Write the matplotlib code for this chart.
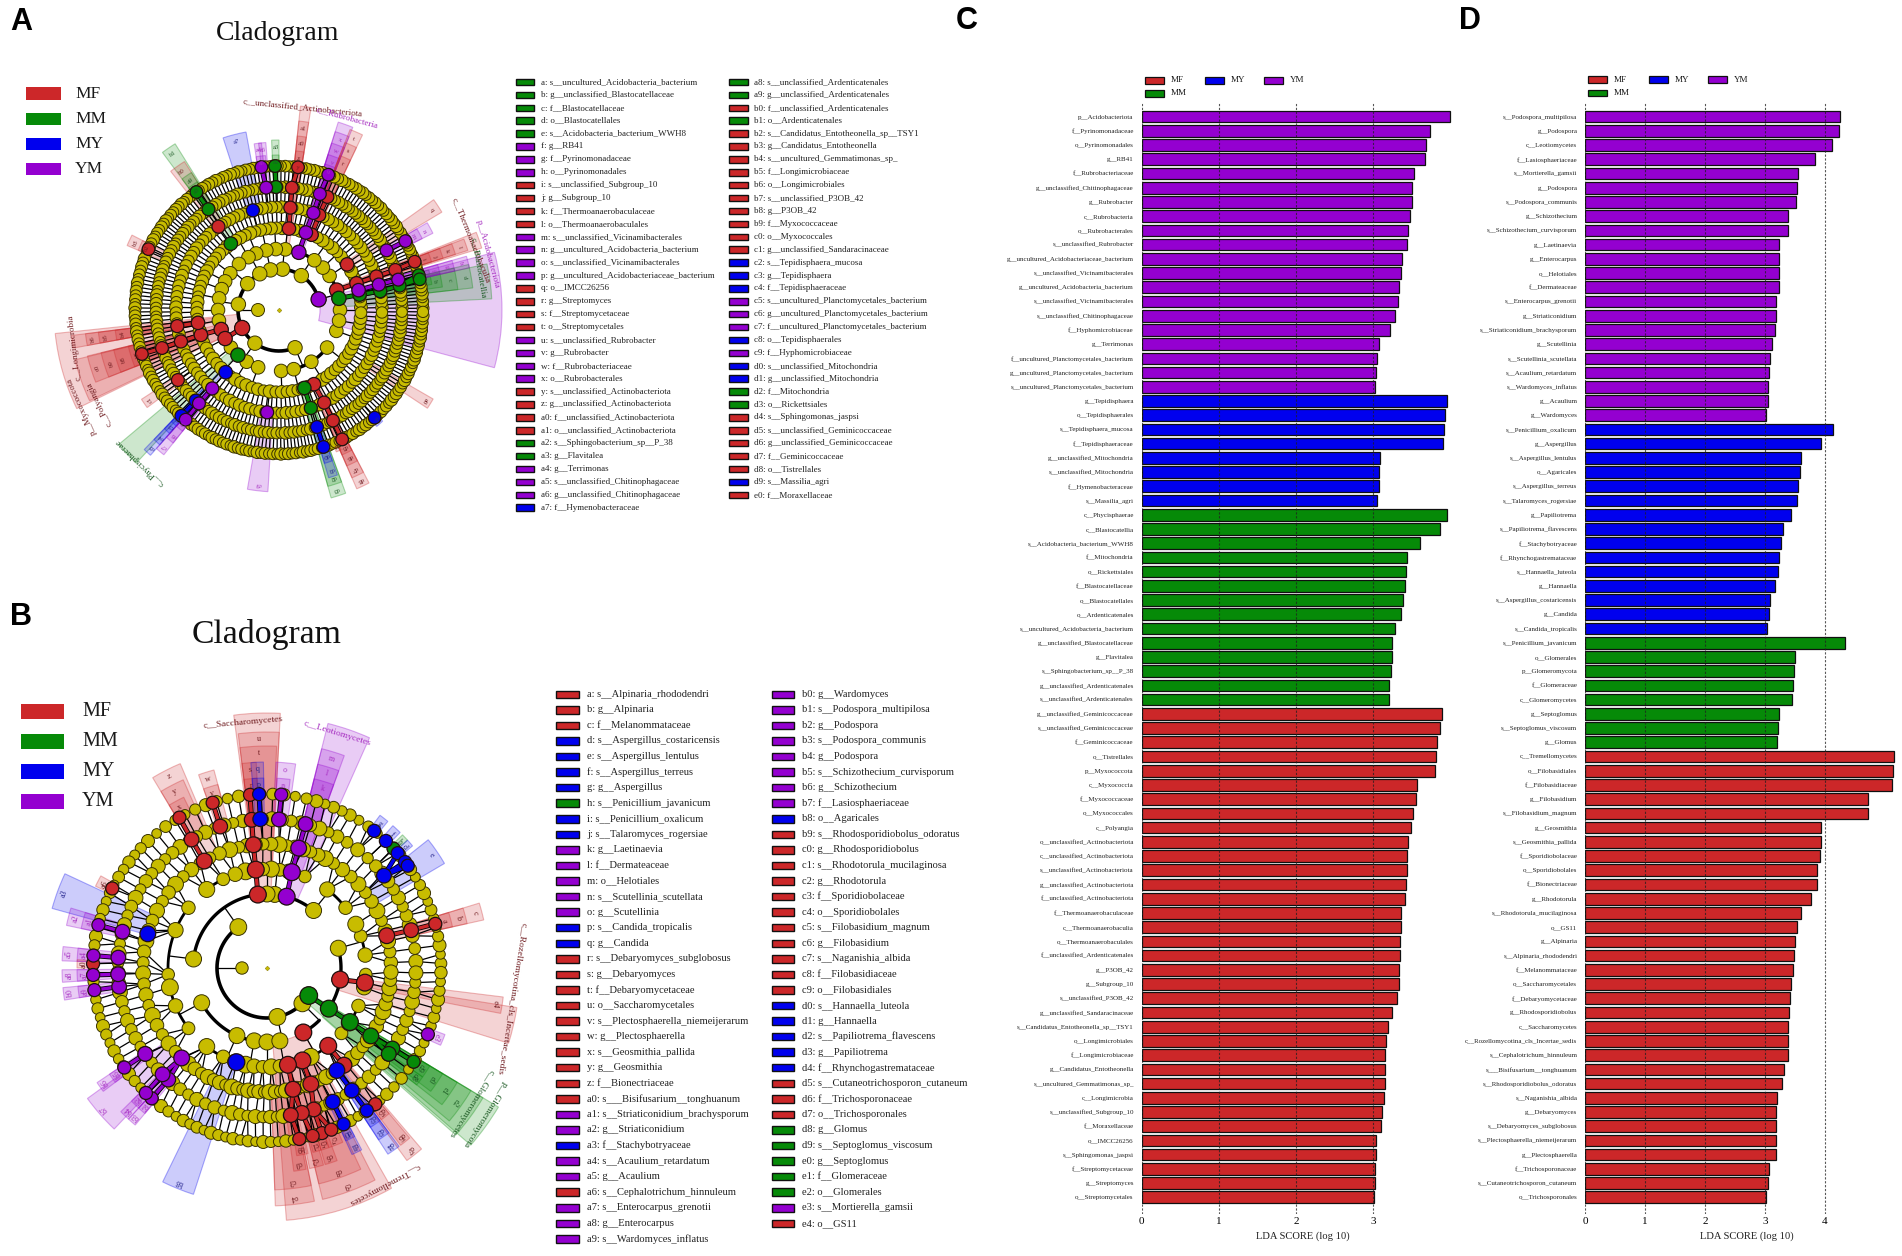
"""
LEfSe figure: two cladograms with their clade keys (A, B) and two LDA bar charts (C, D)
"""
import matplotlib
matplotlib.use('Agg')
import matplotlib.pyplot as plt
from matplotlib.patches import Circle, Wedge, Rectangle
from matplotlib.colors import to_rgba
import numpy as np

plt.rcParams['font.family'] = ['Liberation Serif', 'DejaVu Serif']

# ── colours ──────────────────────────────────────────────
COL = {'MF': '#CC2729', 'MM': '#068A08', 'MY': '#0000EE', 'YM': '#9400D0'}
TXT = {'MF': '#6E1A1E', 'MM': '#1C5A24', 'MY': '#22228C', 'YM': '#A52CC0'}
YELLOW = '#C8BC00'
GROUPS = ['MF', 'MM', 'MY', 'YM']
W, H = 1902, 1256

# ── panel C data ─────────────────────────────────────────
c_labels = [
    'p__Acidobacteriota', 'f__Pyrinomonadaceae', 'o__Pyrinomonadales', 'g__RB41', 'f__Rubrobacteriaceae',
    'g__unclassified_Chitinophagaceae', 'g__Rubrobacter', 'c__Rubrobacteria', 'o__Rubrobacterales',
    's__unclassified_Rubrobacter', 'g__uncultured_Acidobacteriaceae_bacterium',
    's__unclassified_Vicinamibacterales', 'g__uncultured_Acidobacteria_bacterium',
    's__unclassified_Vicinamibacterales', 's__unclassified_Chitinophagaceae', 'f__Hyphomicrobiaceae',
    'g__Terrimonas', 'f__uncultured_Planctomycetales_bacterium', 'g__uncultured_Planctomycetales_bacterium',
    's__uncultured_Planctomycetales_bacterium',
    'g__Tepidisphaera', 'o__Tepidisphaerales', 's__Tepidisphaera_mucosa', 'f__Tepidisphaeraceae',
    'g__unclassified_Mitochondria', 's__unclassified_Mitochondria', 'f__Hymenobacteraceae', 's__Massilia_agri',
    'c__Phycisphaerae', 'c__Blastocatellia', 's__Acidobacteria_bacterium_WWH8', 'f__Mitochondria',
    'o__Rickettsiales', 'f__Blastocatellaceae', 'o__Blastocatellales', 'o__Ardenticatenales',
    's__uncultured_Acidobacteria_bacterium', 'g__unclassified_Blastocatellaceae', 'g__Flavitalea',
    's__Sphingobacterium_sp__P_38', 'g__unclassified_Ardenticatenales', 's__unclassified_Ardenticatenales',
    'g__unclassified_Geminicoccaceae', 's__unclassified_Geminicoccaceae', 'f__Geminicoccaceae', 'o__Tistrellales',
    'p__Myxococcota', 'c__Myxococcia', 'f__Myxococcaceae', 'o__Myxococcales', 'c__Polyangia',
    'o__unclassified_Actinobacteriota', 'c__unclassified_Actinobacteriota', 's__unclassified_Actinobacteriota',
    'g__unclassified_Actinobacteriota', 'f__unclassified_Actinobacteriota', 'f__Thermoanaerobaculaceae',
    'c__Thermoanaerobaculia', 'o__Thermoanaerobaculales', 'f__unclassified_Ardenticatenales', 'g__P3OB_42',
    'g__Subgroup_10', 's__unclassified_P3OB_42', 'g__unclassified_Sandaracinaceae',
    's__Candidatus_Entotheonella_sp__TSY1', 'o__Longimicrobiales', 'f__Longimicrobiaceae',
    'g__Candidatus_Entotheonella', 's__uncultured_Gemmatimonas_sp_', 'c__Longimicrobia',
    's__unclassified_Subgroup_10', 'f__Moraxellaceae', 'o__IMCC26256', 's__Sphingomonas_jaspsi',
    'f__Streptomycetaceae', 'g__Streptomyces', 'o__Streptomycetales',
]
c_values = [
    4.00, 3.74, 3.68, 3.67, 3.53, 3.51, 3.50, 3.48, 3.45, 3.44, 3.37, 3.36, 3.34, 3.32, 3.28, 3.22, 3.07, 3.05, 3.04, 3.03,
    3.96, 3.93, 3.92, 3.90, 3.09, 3.08, 3.07, 3.05,
    3.96, 3.87, 3.61, 3.44, 3.42, 3.41, 3.39, 3.36, 3.28, 3.25, 3.25, 3.23, 3.21, 3.20,
    3.89, 3.87, 3.83, 3.82, 3.80, 3.57, 3.56, 3.52, 3.49, 3.45, 3.44, 3.44, 3.42, 3.41, 3.36, 3.36, 3.35, 3.35,
    3.34, 3.33, 3.31, 3.25, 3.19, 3.17, 3.15, 3.15, 3.15, 3.14, 3.11, 3.10, 3.04, 3.04, 3.03, 3.02, 3.01,
]
c_groups = ['YM'] * 20 + ['MY'] * 8 + ['MM'] * 14 + ['MF'] * 35

# ── panel D data ─────────────────────────────────────────
d_labels = [
    's__Podospora_multipilosa', 'g__Podospora', 'c__Leotiomycetes', 'f__Lasiosphaeriaceae', 's__Mortierella_gamsii',
    'g__Podospora', 's__Podospora_communis', 'g__Schizothecium', 's__Schizothecium_curvisporum', 'g__Laetinaevia',
    'g__Enterocarpus', 'o__Helotiales', 'f__Dermateaceae', 's__Enterocarpus_grenotii', 'g__Striaticonidium',
    's__Striaticonidium_brachysporum', 'g__Scutellinia', 's__Scutellinia_scutellata', 's__Acaulium_retardatum',
    's__Wardomyces_inflatus', 'g__Acaulium', 'g__Wardomyces',
    's__Penicillium_oxalicum', 'g__Aspergillus', 's__Aspergillus_lentulus', 'o__Agaricales', 's__Aspergillus_terreus',
    's__Talaromyces_rogersiae', 'g__Papiliotrema', 's__Papiliotrema_flavescens', 'f__Stachybotryaceae',
    'f__Rhynchogastremataceae', 's__Hannaella_luteola', 'g__Hannaella', 's__Aspergillus_costaricensis', 'g__Candida',
    's__Candida_tropicalis',
    's__Penicillium_javanicum', 'o__Glomerales', 'p__Glomeromycota', 'f__Glomeraceae', 'c__Glomeromycetes',
    'g__Septoglomus', 's__Septoglomus_viscosum', 'g__Glomus',
    'c__Tremellomycetes', 'o__Filobasidiales', 'f__Filobasidiaceae', 'g__Filobasidium', 's__Filobasidium_magnum',
    'g__Geosmithia', 's__Geosmithia_pallida', 'f__Sporidiobolaceae', 'o__Sporidiobolales', 'f__Bionectriaceae',
    'g__Rhodotorula', 's__Rhodotorula_mucilaginosa', 'o__GS11', 'g__Alpinaria', 's__Alpinaria_rhododendri',
    'f__Melanommataceae', 'o__Saccharomycetales', 'f__Debaryomycetaceae', 'g__Rhodosporidiobolus', 'c__Saccharomycetes',
    'c__Rozellomycotina_cls_Incertae_sedis', 's__Cephalotrichum_hinnuleum', 's___Bisifusarium__tonghuanum',
    's__Rhodosporidiobolus_odoratus', 's__Naganishia_albida', 'g__Debaryomyces', 's__Debaryomyces_subglobosus',
    's__Plectosphaerella_niemeijerarum', 'g__Plectosphaerella', 'f__Trichosporonaceae',
    's__Cutaneotrichosporon_cutaneum', 'o__Trichosporonales',
]
d_values = [
    4.25, 4.23, 4.11, 3.84, 3.55, 3.54, 3.51, 3.39, 3.39, 3.24, 3.24, 3.24, 3.24, 3.19, 3.19, 3.17, 3.11, 3.08, 3.06, 3.05, 3.05, 3.02,
    4.14, 3.93, 3.60, 3.58, 3.55, 3.53, 3.43, 3.30, 3.27, 3.23, 3.21, 3.16, 3.08, 3.07, 3.04,
    4.34, 3.50, 3.49, 3.46, 3.45, 3.23, 3.22, 3.20,
    5.15, 5.13, 5.12, 4.72, 4.71, 3.93, 3.93, 3.91, 3.87, 3.87, 3.77, 3.60, 3.54, 3.50, 3.48, 3.46, 3.44, 3.42, 3.40,
    3.39, 3.39, 3.38, 3.31, 3.29, 3.20, 3.19, 3.18, 3.18, 3.18, 3.06, 3.05, 3.02,
]
d_groups = ['YM'] * 22 + ['MY'] * 15 + ['MM'] * 8 + ['MF'] * 32

# ── clade key A ──────────────────────────────────────────
a_key_1 = [
    'a: s__uncultured_Acidobacteria_bacterium', 'b: g__unclassified_Blastocatellaceae', 'c: f__Blastocatellaceae',
    'd: o__Blastocatellales', 'e: s__Acidobacteria_bacterium_WWH8', 'f: g__RB41', 'g: f__Pyrinomonadaceae',
    'h: o__Pyrinomonadales', 'i: s__unclassified_Subgroup_10', 'j: g__Subgroup_10', 'k: f__Thermoanaerobaculaceae',
    'l: o__Thermoanaerobaculales', 'm: s__unclassified_Vicinamibacterales', 'n: g__uncultured_Acidobacteria_bacterium',
    'o: s__unclassified_Vicinamibacterales', 'p: g__uncultured_Acidobacteriaceae_bacterium', 'q: o__IMCC26256',
    'r: g__Streptomyces', 's: f__Streptomycetaceae', 't: o__Streptomycetales', 'u: s__unclassified_Rubrobacter',
    'v: g__Rubrobacter', 'w: f__Rubrobacteriaceae', 'x: o__Rubrobacterales', 'y: s__unclassified_Actinobacteriota',
    'z: g__unclassified_Actinobacteriota', 'a0: f__unclassified_Actinobacteriota', 'a1: o__unclassified_Actinobacteriota',
    'a2: s__Sphingobacterium_sp__P_38', 'a3: g__Flavitalea', 'a4: g__Terrimonas', 'a5: s__unclassified_Chitinophagaceae',
    'a6: g__unclassified_Chitinophagaceae', 'a7: f__Hymenobacteraceae',
]
a_key_1_groups = ['MM'] * 5 + ['YM'] * 3 + ['MF'] * 4 + ['YM'] * 4 + ['MF'] * 4 + ['YM'] * 4 + ['MF'] * 4 + ['MM'] * 2 + ['YM'] * 3 + ['MY']
a_key_2 = [
    'a8: s__unclassified_Ardenticatenales', 'a9: g__unclassified_Ardenticatenales', 'b0: f__unclassified_Ardenticatenales',
    'b1: o__Ardenticatenales', 'b2: s__Candidatus_Entotheonella_sp__TSY1', 'b3: g__Candidatus_Entotheonella',
    'b4: s__uncultured_Gemmatimonas_sp_', 'b5: f__Longimicrobiaceae', 'b6: o__Longimicrobiales',
    'b7: s__unclassified_P3OB_42', 'b8: g__P3OB_42', 'b9: f__Myxococcaceae', 'c0: o__Myxococcales',
    'c1: g__unclassified_Sandaracinaceae', 'c2: s__Tepidisphaera_mucosa', 'c3: g__Tepidisphaera', 'c4: f__Tepidisphaeraceae',
    'c5: s__uncultured_Planctomycetales_bacterium', 'c6: g__uncultured_Planctomycetales_bacterium',
    'c7: f__uncultured_Planctomycetales_bacterium', 'c8: o__Tepidisphaerales', 'c9: f__Hyphomicrobiaceae',
    'd0: s__unclassified_Mitochondria', 'd1: g__unclassified_Mitochondria', 'd2: f__Mitochondria', 'd3: o__Rickettsiales',
    'd4: s__Sphingomonas_jaspsi', 'd5: s__unclassified_Geminicoccaceae', 'd6: g__unclassified_Geminicoccaceae',
    'd7: f__Geminicoccaceae', 'd8: o__Tistrellales', 'd9: s__Massilia_agri', 'e0: f__Moraxellaceae',
]
a_key_2_groups = ['MM'] * 2 + ['MF', 'MM'] + ['MF'] * 10 + ['MY'] * 3 + ['YM'] * 3 + ['MY', 'YM'] + ['MY'] * 2 + ['MM'] * 2 + ['MF'] * 5 + ['MY', 'MF']

# ── clade key B ──────────────────────────────────────────
b_key_1 = [
    'a: s__Alpinaria_rhododendri', 'b: g__Alpinaria', 'c: f__Melanommataceae', 'd: s__Aspergillus_costaricensis',
    'e: s__Aspergillus_lentulus', 'f: s__Aspergillus_terreus', 'g: g__Aspergillus', 'h: s__Penicillium_javanicum',
    'i: s__Penicillium_oxalicum', 'j: s__Talaromyces_rogersiae', 'k: g__Laetinaevia', 'l: f__Dermateaceae',
    'm: o__Helotiales', 'n: s__Scutellinia_scutellata', 'o: g__Scutellinia', 'p: s__Candida_tropicalis', 'q: g__Candida',
    'r: s__Debaryomyces_subglobosus', 's: g__Debaryomyces', 't: f__Debaryomycetaceae', 'u: o__Saccharomycetales',
    'v: s__Plectosphaerella_niemeijerarum', 'w: g__Plectosphaerella', 'x: s__Geosmithia_pallida', 'y: g__Geosmithia',
    'z: f__Bionectriaceae', 'a0: s___Bisifusarium__tonghuanum', 'a1: s__Striaticonidium_brachysporum',
    'a2: g__Striaticonidium', 'a3: f__Stachybotryaceae', 'a4: s__Acaulium_retardatum', 'a5: g__Acaulium',
    'a6: s__Cephalotrichum_hinnuleum', 'a7: s__Enterocarpus_grenotii', 'a8: g__Enterocarpus', 'a9: s__Wardomyces_inflatus',
]
b_key_1_groups = ['MF'] * 3 + ['MY'] * 4 + ['MM'] + ['MY'] * 2 + ['YM'] * 5 + ['MY'] * 2 + ['MF'] * 10 + ['YM'] * 2 + ['MY'] + ['YM'] * 2 + ['MF'] + ['YM'] * 3
b_key_2 = [
    'b0: g__Wardomyces', 'b1: s__Podospora_multipilosa', 'b2: g__Podospora', 'b3: s__Podospora_communis', 'b4: g__Podospora',
    'b5: s__Schizothecium_curvisporum', 'b6: g__Schizothecium', 'b7: f__Lasiosphaeriaceae', 'b8: o__Agaricales',
    'b9: s__Rhodosporidiobolus_odoratus', 'c0: g__Rhodosporidiobolus', 'c1: s__Rhodotorula_mucilaginosa', 'c2: g__Rhodotorula',
    'c3: f__Sporidiobolaceae', 'c4: o__Sporidiobolales', 'c5: s__Filobasidium_magnum', 'c6: g__Filobasidium',
    'c7: s__Naganishia_albida', 'c8: f__Filobasidiaceae', 'c9: o__Filobasidiales', 'd0: s__Hannaella_luteola',
    'd1: g__Hannaella', 'd2: s__Papiliotrema_flavescens', 'd3: g__Papiliotrema', 'd4: f__Rhynchogastremataceae',
    'd5: s__Cutaneotrichosporon_cutaneum', 'd6: f__Trichosporonaceae', 'd7: o__Trichosporonales', 'd8: g__Glomus',
    'd9: s__Septoglomus_viscosum', 'e0: g__Septoglomus', 'e1: f__Glomeraceae', 'e2: o__Glomerales', 'e3: s__Mortierella_gamsii',
    'e4: o__GS11',
]
b_key_2_groups = ['YM'] * 8 + ['MY'] + ['MF'] * 11 + ['MY'] * 5 + ['MF'] * 3 + ['MM'] * 5 + ['YM', 'MF']

# ── cladogram A: ring radii, inner nodes, node counts per 30 degree bin, marked clades ──
a_rings = [0, 21, 41, 61, 82, 103, 123, 144]
a_node_r = [0, 6.5, 7.2, 6.8, 6.4, 6.2, 6.1, 6.0]
a_inner = {1: [180], 2: [15, 57, 85, 102, 118, 140, 172, 206, 234, 293],
           3: [0, 34, 44, 54.6, 84, 93, 102, 112, 120, 131, 143, 152, 160, 169, 180, 190, 218, 238, 250, 272, 284, 302, 322, 340, 350]}
a_bins = {4: [8, 7, 7, 8, 8, 8, 7, 7, 7, 8, 8, 8],
          5: [11, 10, 10, 11, 11, 10, 10, 10, 10, 11, 11, 11],
          6: [16, 16, 15, 16, 16, 15, 15, 15, 15, 15, 16, 16],
          7: [21, 19, 18, 19, 20, 18, 19, 18, 19, 20, 19, 20]}
a_marked = {
    'MF': [(3, 19), (4, 19), (5, 19), (6, 19), (7, 19.6), (4, 33.8), (4, 66.6), (5, 67), (6, 66.8), (4, 83), (5, 83.7), (6, 84),
           (7, 82.4), (5, 126), (7, 155), (2, 206), (3, 198.6), (3, 207.9), (4, 197.7), (4, 189), (5, 189), (5, 197.8), (6, 198),
           (7, 197.8), (6, 214.7), (4, 295.2), (5, 296), (6, 296), (7, 296)],
    'MM': [(3, 11), (4, 10.8), (5, 10.5), (6, 11.4), (7, 14), (7, 12.3), (6, 91.4), (7, 91.6), (4, 126), (6, 125), (7, 125),
           (3, 227.7), (4, 288), (5, 288)],
    'MY': [(5, 104.7), (4, 229.4), (6, 227.4), (7, 227.3), (6, 288), (7, 288), (7, 311.6)],
    'YM': [(2, 15), (4, 14), (5, 14.3), (6, 14.3), (6, 29), (7, 28.6), (3, 71), (4, 70.9), (5, 70.5), (6, 70.6), (7, 70), (6, 96),
           (7, 97), (5, 229.6), (6, 229.4), (7, 229.6), (5, 263.4)],
}
# start angle, end angle, inner radius, outer radius, group, letter
a_sectors = [
    (-15, 15, 41, 223, 'YM', ''), (3, 12.5, 61, 213, 'MM', ''), (6.5, 13.5, 82, 195, 'MM', 'd'), (6.5, 13.5, 103, 180, 'MM', 'c'),
    (8, 13, 123, 165, 'MM', 'b'), (9.5, 12.5, 144, 155, 'MM', 'a'), (13.5, 15, 144, 155, 'MM', 'e'),
    (12.5, 16, 82, 195, 'YM', 'h'), (12.5, 16, 103, 180, 'YM', 'g'), (12.5, 16, 123, 165, 'YM', 'f'),
    (17, 21.5, 61, 212, 'MF', ''), (17.5, 21, 82, 198, 'MF', 'l'), (17.5, 21, 103, 185, 'MF', 'k'), (17.5, 21, 123, 172, 'MF', 'j'),
    (17.5, 21, 144, 160, 'MF', 'i'), (26.5, 30.5, 123, 172, 'YM', 'n'), (26.5, 30.5, 144, 160, 'YM', 'm'), (31, 35.5, 82, 190, 'MF', 'q'),
    (68, 72.5, 61, 197, 'YM', ''), (68, 72.5, 82, 187, 'YM', 'x'), (68, 72.5, 103, 175, 'YM', 'w'), (68, 72.5, 123, 163, 'YM', 'v'),
    (68, 72.5, 144, 153, 'YM', 'u'), (64.5, 68.5, 82, 194, 'MF', 't'), (64.5, 68.5, 103, 180, 'MF', 's'), (64.5, 68.5, 123, 166, 'MF', 'r'),
    (81, 84, 61, 205, 'MF', ''), (81, 84, 82, 190, 'MF', 'a1'), (81, 84, 103, 175, 'MF', 'a0'), (81, 84, 123, 160, 'MF', 'z'),
    (81, 84, 144, 150, 'MF', 'y'), (90, 92.5, 123, 170, 'MM', 'a3'), (90, 92.5, 144, 155, 'MM', 'a2'), (94.5, 97, 123, 168, 'YM', 'a6'),
    (96, 98.5, 123, 168, 'YM', 'a4'), (95, 98.5, 144, 155, 'YM', 'a5'), (100.5, 108, 103, 181, 'MY', 'a7'),
    (122, 126.5, 82, 196, 'MM', 'b1'), (122.5, 128, 103, 176, 'MF', 'b0'), (122.5, 126.5, 123, 163, 'MM', 'a9'), (122.5, 126.5, 144, 152, 'MM', 'a8'),
    (153, 157, 123, 165, 'MF', 'b3'), (153, 157, 144, 153, 'MF', 'b2'),
    (186, 206, 41, 225, 'MF', ''), (193.7, 205.6, 61, 210, 'MF', ''), (193.5, 201.5, 82, 197, 'MF', 'c0'), (193.5, 201.5, 103, 183, 'MF', 'b9'),
    (193.5, 201.5, 123, 170, 'MF', 'b8'), (193.5, 201.5, 144, 155, 'MF', 'b7'), (187, 190.5, 61, 209, 'MF', ''), (187, 190.5, 82, 195, 'MF', 'b6'),
    (187, 190.5, 103, 182, 'MF', 'b5'), (187, 190.5, 123, 165, 'MF', 'b4'), (213, 216.5, 123, 164, 'MF', 'c1'),
    (220, 227, 61, 209, 'MM', ''), (226, 228.5, 82, 194, 'MY', 'c8'), (226, 228.5, 103, 180, 'MY', 'c4'), (226, 228.5, 123, 165, 'MY', 'c3'),
    (226, 228.5, 144, 155, 'MY', 'c2'), (228.5, 231.5, 103, 185, 'YM', 'c7'), (228.5, 231.5, 123, 170, 'YM', 'c6'), (228.5, 231.5, 144, 155, 'YM', 'c5'),
    (260, 266.5, 103, 182, 'YM', 'c9'), (285.5, 290, 82, 195, 'MM', 'd3'), (285.5, 290, 103, 183, 'MM', 'd2'), (286.5, 289.5, 123, 175, 'MY', 'd1'),
    (286.5, 289.5, 144, 160, 'MY', 'd0'), (293.5, 297.5, 82, 195, 'MF', 'd8'), (293.5, 297.5, 103, 183, 'MF', 'd7'), (293.5, 297.5, 123, 170, 'MF', 'd6'),
    (293.5, 297.5, 144, 158, 'MF', 'd5'), (292, 294, 144, 153, 'MF', 'd4'), (-33.5, -30, 103, 178, 'MF', 'e0'), (-50, -47, 144, 152, 'MY', 'd9'),
]
# name, x, y, rotation, group
a_names = [
    ('c__unclassified_Actinobacteriota', 24, 202, -6, 'MF'), ('c__Rubrobacteria', 68, 192, -15, 'YM'),
    ('c__Thermoanaerobaculia', 192, 70, -68, 'MF'), ('p__Acidobacteriota', 209, 56, -75, 'YM'),
    ('c__Blastocatellia', 200, 42, -80, 'MM'), ('p__Myxococcota', -197, -96, 114, 'MF'),
    ('c__Polyangia', -180, -94, 116, 'MF'), ('c__Longimicrobia', -204, -38, 97, 'MF'),
    ('c__Phycisphaerae', -139, -152, 136, 'MM'),
]
a_sizes = [1.0, 0.92, 0.97, 0.88, 1.03, 0.94]

# ── cladogram B: same arrangement, node counts per 15 degree bin ──
b_rings = [0, 25, 50, 74, 99, 124, 149, 174]
b_node_r = [0, 6.2, 8.4, 8.0, 8.0, 7.5, 7.0, 6.2]
b_inner = {1: [180], 2: [125, 282, 315], 3: [90, 84, 51, 15.5, 280, 270, 260, 246, 173, 208]}
b_bins = {4: [1, 2, 1, 1, 1, 3, 3, 2, 1, 1, 1, 0, 2, 1, 1, 1, 2, 3, 3, 2, 1, 2, 1, 2],
          5: [3, 3, 3, 3, 4, 4, 4, 3, 3, 3, 3, 3, 3, 3, 3, 4, 5, 6, 6, 5, 4, 4, 4, 4],
          6: [3, 4, 4, 3, 4, 4, 4, 4, 4, 4, 4, 4, 4, 4, 4, 4, 4, 5, 6, 5, 4, 4, 4, 4],
          7: [5, 5, 5, 4, 5, 4, 4, 4, 4, 5, 5, 5, 5, 5, 5, 5, 6, 6, 6, 6, 5, 4, 5, 5]}
b_marked = {
    'MF': [(3, 97.1), (4, 96.5), (5, 96.3), (6, 95.9), (7, 95.6), (5, 120.4), (6, 120.4), (7, 120.2), (6, 108.3), (7, 108.2),
           (5, 15.1), (6, 14.7), (7, 14.7), (3, -9), (4, -8.5), (4, -51.8), (5, -51.6), (7, -51.5), (3, -60.6), (4, -69), (4, -77.8),
           (5, -69.3), (5, -77.9), (6, -71.7), (6, -76.5), (6, -80.8), (7, -71.6), (7, -74.8), (7, -79.3), (7, -68.3), (7, 178.6), (7, 152.8)],
    'MM': [(2, -33.4), (3, -33.3), (4, -33.1), (5, -33.2), (6, -32.7), (6, -35.2), (7, -32.6), (7, 43.3)],
    'MY': [(6, 92.6), (7, 92.6), (7, 52), (7, 46.9), (7, 41.3), (7, 37.5), (7, 36), (6, 38.3), (5, -55.7), (6, -55.3), (7, -55),
           (6, -63.8), (7, -63.9), (4, 252), (5, 164)],
    'YM': [(3, 74.6), (4, 75.5), (5, 75.2), (6, 75), (6, 85.4), (7, 85.3), (7, -22.4), (5, 226.5), (6, 215.2), (7, 214.9), (6, 228.5),
           (6, 225.5), (7, 228.5), (7, 225.9), (7, 187.3), (6, 187.2), (7, 182.3), (6, 182.4), (6, 176), (7, 175.9), (6, 165.9), (7, 165.7)],
}
b_sectors = [
    (87, 97.5, 74, 255, 'MF', ''), (87, 97, 99, 236, 'MF', 'u'), (87.5, 97, 124, 222, 'MF', 't'), (93, 97, 149, 206, 'MF', 's'),
    (93, 97, 174, 190, 'MF', 'r'), (91, 94.5, 149, 206, 'MY', 'q'), (91, 94.5, 174, 190, 'MY', 'p'), (82, 87.5, 149, 206, 'YM', 'o'),
    (83, 87, 174, 190, 'YM', 'n'), (66, 76, 74, 252, 'YM', ''), (70, 76, 99, 226, 'YM', 'm'), (70, 76, 124, 210, 'YM', 'l'), (70, 76, 149, 195, 'YM', 'k'),
    (113, 121, 124, 222, 'MF', 'z'), (114, 121, 149, 206, 'MF', 'y'), (116, 121, 174, 190, 'MF', 'x'), (105, 109.5, 149, 205, 'MF', 'w'), (105, 109.5, 174, 190, 'MF', 'v'),
    (155, 164.5, 124, 223, 'MY', 'a3'), (163, 168, 149, 205, 'YM', 'a2'), (163, 168, 174, 190, 'YM', 'a1'), (151, 154.5, 174, 190, 'MF', 'a6'),
    (174, 178, 149, 205, 'YM', 'a5'), (174, 178, 174, 190, 'YM', 'a4'), (177.5, 180, 174, 190, 'MF', 'a0'), (180.5, 184, 149, 205, 'YM', 'a8'),
    (180.5, 184, 174, 190, 'YM', 'a7'), (185.5, 189, 149, 205, 'YM', 'b0'), (185.5, 189, 174, 190, 'YM', 'a9'),
    (216, 226.5, 124, 222, 'YM', 'b7'), (214, 217, 149, 205, 'YM', 'b6'), (214, 217, 174, 190, 'YM', 'b5'), (224.5, 227.5, 149, 205, 'YM', 'b4'),
    (227.5, 230, 149, 205, 'YM', 'b3'), (224.5, 227.5, 174, 190, 'YM', 'b2'), (227.5, 230, 174, 190, 'YM', 'b1'), (244, 252, 99, 238, 'MY', 'b8'),
    (-85.6, -60.5, 74, 253, 'MF', ''), (-76.5, -63, 99, 238, 'MF', 'c9'), (-88, -78.5, 99, 238, 'MF', 'c4'), (-76.5, -65, 124, 222, 'MF', 'c8'),
    (-88, -78.5, 124, 222, 'MF', 'c3'), (-73.5, -70, 149, 205, 'MF', 'c6'), (-78, -74, 149, 205, 'MF', 'c2'), (-82.5, -79, 149, 205, 'MF', 'c0'),
    (-71, -66.5, 174, 190, 'MF', 'c7'), (-73.5, -71, 174, 190, 'MF', 'c5'), (-76, -73.5, 174, 190, 'MF', 'c1'), (-81, -77.5, 174, 190, 'MF', 'b9'),
    (-54, -49.5, 99, 238, 'MF', 'd7'), (-53, -50, 124, 222, 'MF', 'd6'), (-53, -50, 174, 190, 'MF', 'd5'), (-57, -53.5, 124, 222, 'MY', 'd4'),
    (-57, -53.5, 149, 205, 'MY', 'd3'), (-57, -53.5, 174, 190, 'MY', 'd2'), (-65.5, -62.5, 149, 205, 'MY', 'd1'), (-65.5, -62.5, 174, 190, 'MY', 'd0'),
    (-41, -31, 50, 270, 'MM', ''), (-41.5, -31, 74, 252, 'MM', ''), (-40, -31, 99, 238, 'MM', 'e2'), (-38, -31, 124, 222, 'MM', 'e1'),
    (-37, -31, 149, 205, 'MM', 'e0'), (-35, -31, 174, 190, 'MM', 'd9'), (-38, -35, 149, 190, 'MM', 'd8'),
    (-17.3, -9, 74, 253, 'MF', ''), (-11, -7, 99, 238, 'MF', 'e4'), (12.5, 17, 124, 222, 'MF', 'c'), (12.5, 17, 149, 205, 'MF', 'b'), (12.5, 17, 174, 190, 'MF', 'a'),
    (-24, -20.5, 174, 190, 'YM', 'e3'), (30.5, 38.5, 124, 206, 'MY', 'e'), (50.5, 53.5, 174, 190, 'MY', 'g'), (45.5, 48.5, 174, 190, 'MY', 'f'),
    (42.3, 44.5, 174, 190, 'MM', 'h'), (40, 42.3, 174, 190, 'MY', 'd'),
]
b_names = [
    ('c__Saccharomycetes', -24, 245, 5, 'MF'), ('c__Leotiomycetes', 70, 235, -17, 'YM'),
    ('c__Rozellomycotina_cls_Incertae_sedis', 245, -31, -99, 'MF'), ('p__Glomeromycota', 218, -146, -122, 'MM'),
    ('c__Glomeromycetes', 204, -136, -122, 'MM'), ('c__Tremellomycetes', 117, -216, -152, 'MF'),
]
b_sizes = [1.0, 0.84, 0.95, 0.78, 1.05, 0.9, 0.8]


def pixel_axes(x0, y0, x1, y1):
    return fig.add_axes([x0 / W, 1 - y1 / H, (x1 - x0) / W, (y1 - y0) / H])


def bin_angles(counts):
    width = 360 / len(counts)
    out = []
    for i, n in enumerate(counts):
        out += [i * width + (j + 0.5) * width / n for j in range(n)]
    return out


def delta(a, b):
    return (a - b + 180) % 360 - 180


def cladogram(ax, rings, node_r, inner, bins, marked, sectors, names, sizes, radial, label_size, name_size):
    for th1, th2, r0, r1, grp, letter in sectors:
        ax.add_patch(Wedge((0, 0), r1, th1, th2, width=r1 - r0, facecolor=to_rgba(COL[grp], 0.2),
                           edgecolor=to_rgba(COL[grp], 0.32), lw=0.8, zorder=1))
        if letter:
            mid = np.radians((th1 + th2) / 2)
            ax.text((r1 - 7) * np.cos(mid), (r1 - 7) * np.sin(mid), letter, color=TXT[grp], fontsize=label_size,
                    rotation=(th1 + th2) / 2 - 90, ha='center', va='center', rotation_mode='anchor', zorder=6)
    for name, x, y, rot, grp in names:
        ax.text(x, y, name, color=TXT[grp], fontsize=name_size, rotation=rot, ha='center', va='center',
                rotation_mode='anchor', zorder=6)

    # nodes per ring, plain ones first
    levels = {k: list(v) for k, v in inner.items()}
    for k, counts in bins.items():
        levels[k] = bin_angles(counts)
    for grp, pts in marked.items():
        for k, th in pts:
            levels[k].append(th)

    # branches
    for k in range(2, 8):
        kids = {}
        for th in levels[k]:
            parent = min(levels[k - 1], key=lambda p: abs(delta(th, p)))
            kids.setdefault(parent, []).append(th)
        lw = {2: 2.6, 3: 2.4, 4: 2.0}.get(k, 0.9)
        for parent, ths in kids.items():
            pr = np.radians(parent)
            if k <= 4:
                offs = [delta(t, parent) for t in ths] + [0]
                arc = np.radians(np.linspace(parent + min(offs), parent + max(offs), 60))
                ax.plot(rings[k] * np.cos(arc), rings[k] * np.sin(arc), color='black', lw=lw, zorder=2,
                        solid_capstyle='round')
                ax.plot([rings[k - 1] * np.cos(pr), rings[k] * np.cos(pr)],
                        [rings[k - 1] * np.sin(pr), rings[k] * np.sin(pr)], color='black', lw=0.9, zorder=2)
            else:
                for t in ths:
                    tr = np.radians(t)
                    start = tr if radial else pr
                    ax.plot([rings[k - 1] * np.cos(start), rings[k] * np.cos(tr)],
                            [rings[k - 1] * np.sin(start), rings[k] * np.sin(tr)], color='black', lw=lw, zorder=2)

    # plain nodes
    for k, ths in levels.items():
        for j, th in enumerate(sorted(ths)):
            t = np.radians(th)
            rad = node_r[k] * (sizes[j % len(sizes)] if k >= 4 else 1.0)
            ax.add_patch(Circle((rings[k] * np.cos(t), rings[k] * np.sin(t)), rad, facecolor=YELLOW,
                                edgecolor='#3A3300', lw=0.7, zorder=3))

    # marked clades, with thick links between neighbouring levels
    for grp, pts in marked.items():
        for k, th in pts:
            t = np.radians(th)
            x, y = rings[k] * np.cos(t), rings[k] * np.sin(t)
            before = [p for kk, p in pts if kk == k - 1 and abs(delta(p, th)) < 6]
            if before:
                p = np.radians(min(before, key=lambda q: abs(delta(q, th))))
                xy = ([rings[k - 1] * np.cos(p), x], [rings[k - 1] * np.sin(p), y])
                ax.plot(*xy, color='black', lw=3.6, zorder=4, solid_capstyle='butt')
                ax.plot(*xy, color=COL[grp], lw=2.4, zorder=4.1, solid_capstyle='butt')
            ax.add_patch(Circle((x, y), node_r[k] * 1.05, facecolor=COL[grp], edgecolor='#201010', lw=0.9, zorder=5))

    ax.plot(0, 0, marker='D', ms=2.4, color=YELLOW, mec='#807000', mew=0.3, zorder=3)
    ax.set_axis_off()


def bar_panel(x0, x1, unit, labels, values, groups, xticks, xlabel_x, label_size):
    ax = pixel_axes(x0, 103, x1, 1214)
    n_y = np.arange(len(values))
    ax.barh(n_y, values, height=0.82, color=[COL[g] for g in groups], edgecolor='#101010', lw=0.9, zorder=2)
    ax.set_xlim(0, (x1 - x0) / unit)
    ax.set_ylim((1214 - 116.6) / 14.22, (103 - 116.6) / 14.22)
    for t in xticks:
        ax.axvline(t, color='#202020', lw=0.8, ls=(0, (2, 1.5)), alpha=0.75, zorder=3)
    for sp in ax.spines.values():
        sp.set_visible(False)
    ax.set_xticks(xticks)
    ax.set_xticklabels([str(t) for t in xticks], fontsize=8)
    ax.tick_params(axis='x', length=0, pad=2)
    ax.set_yticks(n_y)
    ax.set_yticklabels(labels, fontsize=label_size, color='#222222')
    ax.tick_params(axis='y', length=0, pad=5.6)
    top.text(xlabel_x, 1236, 'LDA SCORE (log 10)', fontsize=7.6, ha='center', va='center', color='#222222')


def key_column(names, groups, swatch_x, text_x, y0, step, sw_h, size):
    for i, (name, g) in enumerate(zip(names, groups)):
        y = y0 + i * step
        top.add_patch(Rectangle((swatch_x[0], y - sw_h / 2), swatch_x[1] - swatch_x[0], sw_h, facecolor=COL[g],
                                edgecolor='#101010', lw=1.0))
        top.text(text_x, y, name, fontsize=size, va='center', color='#222222')


def group_legend(x_pairs, rows, sw_h, size, edge):
    for g, (sx0, sx1, tx), y in zip(GROUPS, x_pairs, rows):
        top.add_patch(Rectangle((sx0, y - sw_h / 2), sx1 - sx0, sw_h, facecolor=COL[g], edgecolor=edge, lw=0.9))
        top.text(tx, y, g, fontsize=size, va='center', color='#1A1A1A')


fig = plt.figure(figsize=(W / 100, H / 100), dpi=100, facecolor='white')

# overlay in image pixels for keys, headings and panel letters
top = fig.add_axes([0, 0, 1, 1], zorder=5)
top.set_xlim(0, W)
top.set_ylim(H, 0)
top.set_axis_off()
top.patch.set_alpha(0)

# ── cladograms ───────────────────────────────────────────
ax_a = pixel_axes(0, 40, 510, 530)
ax_a.set_xlim(-279, 231)
ax_a.set_ylim(310 - 530, 310 - 40)
cladogram(ax_a, a_rings, a_node_r, a_inner, a_bins, a_marked, a_sectors, a_names, a_sizes, True, 4.8, 6.4)

ax_b = pixel_axes(0, 660, 540, 1256)
ax_b.set_xlim(-267, 273)
ax_b.set_ylim(968 - 1256, 968 - 660)
cladogram(ax_b, b_rings, b_node_r, b_inner, b_bins, b_marked, b_sectors, b_names, b_sizes, False, 5.8, 6.8)

# ── bar panels ───────────────────────────────────────────
bar_panel(1141.5, 1456, 77.2, c_labels, c_values, c_groups, [0, 1, 2, 3], 1303, 5.0)
bar_panel(1585, 1897, 60.0, d_labels, d_values, d_groups, [0, 1, 2, 3, 4], 1747, 5.0)

# ── clade keys ───────────────────────────────────────────
key_column(a_key_1, a_key_1_groups, (516, 534), 541, 82, 12.9, 6.5, 6.5)
key_column(a_key_2, a_key_2_groups, (729, 748), 754, 82, 12.9, 6.5, 6.5)
key_column(b_key_1, b_key_1_groups, (556, 579), 587, 694.3, 15.56, 7.5, 7.6)
key_column(b_key_2, b_key_2_groups, (772, 794), 802, 694.3, 15.56, 7.5, 7.6)

# ── headings, legends, letters ───────────────────────────
top.text(278, 33, 'Cladogram', fontsize=20, ha='center', va='center', color='#111111')
top.text(267, 634, 'Cladogram', fontsize=24.3, ha='center', va='center', color='#111111')
group_legend([(26, 61, 75)] * 4, [93.6, 118.8, 144, 169], 12.5, 12.5, 'none')
group_legend([(21, 63.5, 82)] * 4, [711, 741, 771, 801], 15, 14.5, 'none')
group_legend([(1145, 1164, 1171), (1145, 1164, 1171), (1205, 1224, 1231), (1264, 1283, 1290)], [80.3, 93.3, 80.3, 80.3], 6.5, 6.6, '#101010')
group_legend([(1588, 1607, 1614), (1588, 1607, 1614), (1649, 1668, 1675), (1708, 1727, 1734)], [79.5, 93, 79.5, 79.5], 6.5, 6.6, '#101010')
for letter, x, y in [('A', 21, 22), ('B', 21, 617), ('C', 967, 21), ('D', 1470, 21)]:
    top.text(x, y, letter, fontsize=22, fontweight='bold', family=['Liberation Sans', 'DejaVu Sans'],
             ha='center', va='center', color='black')

fig.savefig('out.png', dpi=100, facecolor='white')
plt.close(fig)
